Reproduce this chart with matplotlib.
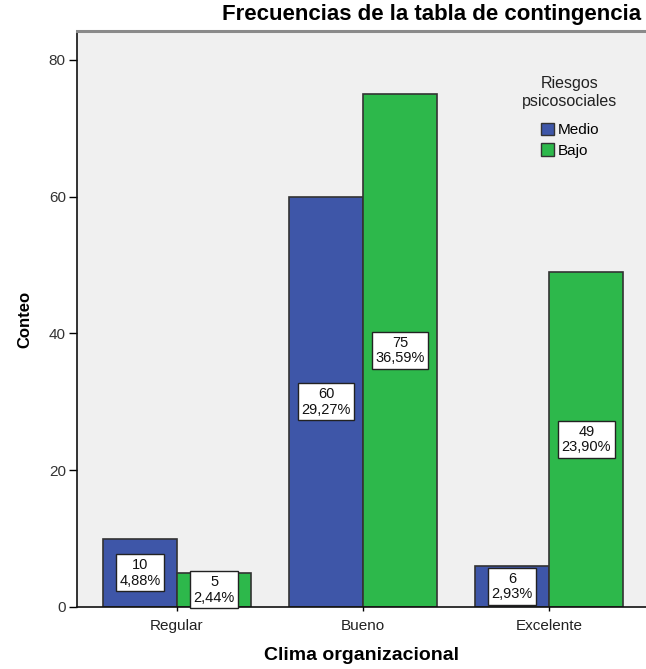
import matplotlib
matplotlib.use("Agg")
import matplotlib.pyplot as plt
import numpy as np
from matplotlib.patches import Patch

plt.rcParams['font.family'] = ['Liberation Sans', 'DejaVu Sans']

categories = ["Regular", "Bueno", "Excelente"]
series_names = ["Medio", "Bajo"]
medio_counts = [10, 60, 6]
bajo_counts = [5, 75, 49]
medio_pct = ["4,88%", "29,27%", "2,93%"]
bajo_pct = ["2,44%", "36,59%", "23,90%"]
yticks = [0, 20, 40, 60, 80]

blue = "#3E56A8"
green = "#2DB84B"
edge = "#333333"
bg = "#F0F0F0"

fig = plt.figure(figsize=(6.46, 6.69), dpi=100)
ax = fig.add_axes([0.119, 0.0927, 0.881, 0.861])
ax.set_facecolor(bg)

x = np.arange(len(categories))
w = 0.398
ax.bar(x - w / 2, medio_counts, w, color=blue, edgecolor=edge, linewidth=1.2, zorder=2)
ax.bar(x + w / 2, bajo_counts, w, color=green, edgecolor=edge, linewidth=1.2, zorder=2)

box = dict(boxstyle="square,pad=0.25", facecolor="white", edgecolor="#222222", linewidth=1.0)
for xs, vals, pcts in [(x - w / 2, medio_counts, medio_pct), (x + w / 2, bajo_counts, bajo_pct)]:
    for xi, v, p in zip(xs, vals, pcts):
        ax.text(xi, v / 2, f"{v}\n{p}", ha="center", va="center", fontsize=10.5,
                linespacing=1.15, bbox=box, zorder=3, color="#111111")

ax.set_xlim(-0.538, 2.52)
ax.set_ylim(0, 84.2)
ax.set_yticks(yticks)
ax.set_xticks(x)
ax.set_xticklabels(categories, fontsize=11, color="#222222")
ax.tick_params(axis="y", labelsize=11, labelcolor="#333333", length=6, width=1, direction="out", pad=2)
ax.tick_params(axis="x", length=6, width=1, direction="inout", pad=6)

ax.spines["right"].set_visible(False)
ax.spines["top"].set_color("#8A8A8A")
ax.spines["top"].set_linewidth(2.2)
ax.spines["left"].set_color("#111111")
ax.spines["bottom"].set_color("#111111")
ax.spines["left"].set_linewidth(1.2)
ax.spines["bottom"].set_linewidth(1.2)

ax.set_ylabel("Conteo", fontsize=12, fontweight="bold", labelpad=12)
ax.set_xlabel("Clima organizacional", fontsize=14, fontweight="bold", labelpad=10)

fig.text(0.992, 0.962, "Frecuencias de la tabla de contingencia", ha="right", va="bottom",
         fontsize=16, fontweight="bold")

handles = [Patch(facecolor=blue, edgecolor=edge, label=series_names[0]),
           Patch(facecolor=green, edgecolor=edge, label=series_names[1])]
leg = ax.legend(handles=handles, title="Riesgos\npsicosociales", loc="upper center",
                bbox_to_anchor=(0.866, 0.94), frameon=False, fontsize=11, title_fontsize=11.5,
                handlelength=0.9, handleheight=0.9, handletextpad=0.2, labelspacing=0.4,
                borderpad=0.2, alignment="center")
leg.get_title().set_multialignment("center")
leg.get_title().set_color("#222222")
leg._legend_box.sep = 10

fig.savefig("out.png", dpi=100, facecolor="white")
